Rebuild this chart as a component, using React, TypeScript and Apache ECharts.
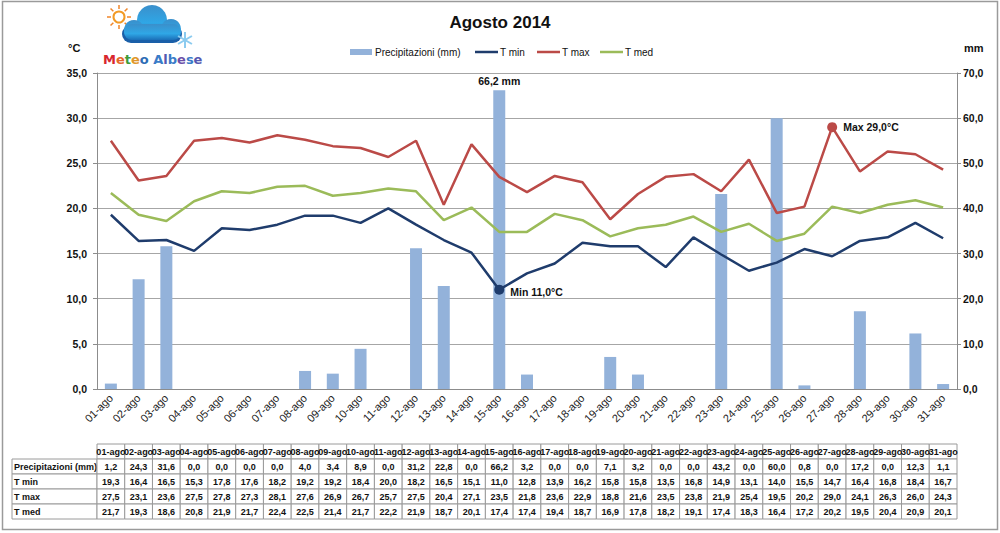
import React, { useEffect, useRef } from 'react';
import * as echarts from 'echarts';

const days = ['01-ago','02-ago','03-ago','04-ago','05-ago','06-ago','07-ago','08-ago','09-ago','10-ago','11-ago','12-ago','13-ago','14-ago','15-ago','16-ago','17-ago','18-ago','19-ago','20-ago','21-ago','22-ago','23-ago','24-ago','25-ago','26-ago','27-ago','28-ago','29-ago','30-ago','31-ago'];
const precip = [1.2,24.3,31.6,0,0,0,0,4.0,3.4,8.9,0,31.2,22.8,0,66.2,3.2,0,0,7.1,3.2,0,0,43.2,0,60.0,0.8,0,17.2,0,12.3,1.1];
const tmin = [19.3,16.4,16.5,15.3,17.8,17.6,18.2,19.2,19.2,18.4,20.0,18.2,16.5,15.1,11.0,12.8,13.9,16.2,15.8,15.8,13.5,16.8,14.9,13.1,14.0,15.5,14.7,16.4,16.8,18.4,16.7];
const tmax = [27.5,23.1,23.6,27.5,27.8,27.3,28.1,27.6,26.9,26.7,25.7,27.5,20.4,27.1,23.5,21.8,23.6,22.9,18.8,21.6,23.5,23.8,21.9,25.4,19.5,20.2,29.0,24.1,26.3,26.0,24.3];
const tmed = [21.7,19.3,18.6,20.8,21.9,21.7,22.4,22.5,21.4,21.7,22.2,21.9,18.7,20.1,17.4,17.4,19.4,18.7,16.9,17.8,18.2,19.1,17.4,18.3,16.4,17.2,20.2,19.5,20.4,20.9,20.1];
const tempTicks = { min: 0, max: 35, interval: 5 };
const rainTicks = { min: 0, max: 70, interval: 10 };
const seriesNames = ['Precipitazioni (mm)', 'T min', 'T max', 'T med'];
const tableRows = [
  { name: 'Precipitazioni (mm)', values: precip },
  { name: 'T min', values: tmin },
  { name: 'T max', values: tmax },
  { name: 'T med', values: tmed },
];

const fmt = (v: number) => v.toFixed(1).replace('.', ',');

const C_BAR = '#93B2DA';
const C_MIN = '#1F3C6C';
const C_MAX = '#BB4A47';
const C_MED = '#9BBB59';
const FONT = 'Liberation Sans';

const GL = 97, GT = 73, GW = 860, GH = 316;

function txtStyle(text: string, font: string, align: string, fill = '#111') {
  return { text, fill, font, textAlign: align, textVerticalAlign: 'middle', align, verticalAlign: 'middle' };
}

function buildTable(): any[] {
  const els: any[] = [];
  const cw = GW / days.length;
  const top = 444, rh = 15;
  const stroke = '#9a9a9a';
  const tfont = `bold 9px "${FONT}"`;
  days.forEach((d, i) => {
    const x = GL + i * cw;
    els.push({ type: 'rect', shape: { x, y: top, width: cw, height: rh }, style: { fill: '#fff', stroke, lineWidth: 1 } });
  });
  days.forEach((d, i) => {
    const x = GL + i * cw;
    els.push({ type: 'text', x: x + cw / 2, y: top + rh / 2 + 0.5, style: txtStyle(d, tfont, 'center') });
  });
  tableRows.forEach((row, r) => {
    const y = top + rh * (r + 1);
    els.push({ type: 'rect', shape: { x: 12, y, width: GL - 12, height: rh }, style: { fill: '#fff', stroke, lineWidth: 1 } });
    els.push({ type: 'text', x: 14, y: y + rh / 2 + 0.5, style: txtStyle(row.name, tfont, 'left') });
    row.values.forEach((v, i) => {
      const x = GL + i * cw;
      els.push({ type: 'rect', shape: { x, y, width: cw, height: rh }, style: { fill: '#fff', stroke, lineWidth: 1 } });
      els.push({ type: 'text', x: x + cw / 2, y: y + rh / 2 + 0.5, style: txtStyle(fmt(v), tfont, 'center') });
    });
  });
  return els;
}

function buildLegend(): any[] {
  const els: any[] = [];
  const y = 52;
  const lf = `10px "${FONT}"`;
  const iconX = [350, 475, 537, 600];
  const colors = [C_BAR, C_MIN, C_MAX, C_MED];
  seriesNames.forEach((name, i) => {
    const x = iconX[i];
    if (i === 0) {
      els.push({ type: 'rect', shape: { x, y: y - 3, width: 22, height: 6 }, style: { fill: colors[i] } });
    } else {
      els.push({ type: 'line', shape: { x1: x, y1: y, x2: x + 23, y2: y }, style: { stroke: colors[i], lineWidth: 2.5 } });
    }
    els.push({ type: 'text', x: x + (i === 0 ? 25 : 25), y: y + 0.5, style: txtStyle(name, lf, 'left') });
  });
  return els;
}

function buildLogo(): any[] {
  const els: any[] = [];
  const sx = 119, sy = 17;
  for (let k = 0; k < 8; k++) {
    const a = (k * Math.PI) / 4;
    els.push({ type: 'line', shape: { x1: sx + Math.cos(a) * 8, y1: sy + Math.sin(a) * 8, x2: sx + Math.cos(a) * 12, y2: sy + Math.sin(a) * 12 }, style: { stroke: '#F0862A', lineWidth: 1.5 } });
  }
  els.push({ type: 'circle', shape: { cx: sx, cy: sy, r: 5.5 }, style: { fill: '#fff', stroke: '#F29A26', lineWidth: 2 } });
  const grad = new echarts.graphic.LinearGradient(0, 0, 0, 1, [
    { offset: 0, color: '#3A8FCB' },
    { offset: 0.6, color: '#2FA7E6' },
    { offset: 1, color: '#1B6FB8' },
  ]);
  els.push({ type: 'rect', shape: { x: 122, y: 25, width: 60, height: 18, r: 9 }, style: { fill: '#1A5FA8' } });
  els.push({ type: 'circle', shape: { cx: 152, cy: 20, r: 15 }, style: { fill: grad } });
  els.push({ type: 'circle', shape: { cx: 134, cy: 30, r: 10 }, style: { fill: grad } });
  els.push({ type: 'circle', shape: { cx: 171, cy: 29, r: 10 }, style: { fill: grad } });
  els.push({ type: 'rect', shape: { x: 124, y: 24, width: 57, height: 16, r: 8 }, style: { fill: grad } });
  const fx = 185, fy = 40;
  for (let k = 0; k < 3; k++) {
    const a = (k * Math.PI) / 3 + Math.PI / 6;
    els.push({ type: 'line', shape: { x1: fx - Math.cos(a) * 8, y1: fy - Math.sin(a) * 8, x2: fx + Math.cos(a) * 8, y2: fy + Math.sin(a) * 8 }, style: { stroke: '#8CCBEF', lineWidth: 2 } });
  }
  const letters: [string, string][] = [['M', '#D8262E'], ['e', '#E5672A'], ['t', '#3E9B3A'], ['e', '#E0972A'], ['o', '#2E6DB5'], [' ', '#000'], ['A', '#3A7CC8'], ['l', '#5458B0'], ['b', '#3A7CC8'], ['e', '#6D4FA8'], ['s', '#3A7CC8'], ['e', '#5458B0']];
  const rich: any = {};
  let txt = '';
  letters.forEach(([ch, col], i) => {
    rich['c' + i] = { fill: col, color: col, font: 'bold 13px "DejaVu Sans"' };
    txt += `{c${i}|${ch}}`;
  });
  els.push({ type: 'text', x: 103, y: 59, style: { text: txt, rich, textVerticalAlign: 'middle', verticalAlign: 'middle', font: 'bold 13px "DejaVu Sans"' } });
  return els;
}

export default function App() {
  const ref = useRef<HTMLDivElement>(null);
  useEffect(() => {
    document.body.style.margin = '0';
    const chart = echarts.init(ref.current!, null, { renderer: 'svg' });
    const maxP = Math.max(...precip);
    const option: any = {
      animation: false,
      backgroundColor: '#fff',
      textStyle: { fontFamily: FONT },
      title: {
        text: 'Agosto 2014', left: 'center', top: 9,
        textStyle: { fontSize: 17, fontWeight: 'bold', color: '#111', fontFamily: FONT },
      },
      legend: { show: false, data: seriesNames },
      grid: { left: GL, top: GT, width: GW, height: GH, outerBoundsMode: 'none', containLabel: false },
      xAxis: {
        type: 'category', data: days, boundaryGap: true,
        axisLine: { lineStyle: { color: '#8c8c8c' } },
        axisTick: { show: false },
        axisLabel: { rotate: 45, interval: 0, fontSize: 11, color: '#222', margin: 7, fontFamily: FONT },
      },
      yAxis: [
        {
          type: 'value', ...tempTicks,
          axisLine: { show: true, lineStyle: { color: '#8c8c8c' } },
          axisTick: { show: true, length: 4, lineStyle: { color: '#8c8c8c' } },
          splitLine: { lineStyle: { color: '#a6a6a6' } },
          axisLabel: { formatter: (v: number) => fmt(v), fontSize: 10.5, fontWeight: 'bold', color: '#111', margin: 10, fontFamily: FONT },
        },
        {
          type: 'value', position: 'right', ...rainTicks,
          axisLine: { show: true, lineStyle: { color: '#8c8c8c' } },
          axisTick: { show: true, length: 4, lineStyle: { color: '#8c8c8c' } },
          splitLine: { show: false },
          axisLabel: { formatter: (v: number) => fmt(v), fontSize: 10.5, fontWeight: 'bold', color: '#111', margin: 6, fontFamily: FONT },
        },
      ],
      series: [
        {
          name: seriesNames[0], type: 'bar', yAxisIndex: 1, barWidth: 12,
          itemStyle: { color: C_BAR },
          data: precip.map((v) => v === maxP
            ? { value: v, label: { show: true, position: 'top', distance: 4, formatter: () => fmt(v) + ' mm', fontSize: 10.5, fontWeight: 'bold', color: '#111', fontFamily: FONT } }
            : v),
        },
        {
          name: seriesNames[1], type: 'line', yAxisIndex: 0, data: tmin, symbol: 'none',
          lineStyle: { color: C_MIN, width: 2.5 }, itemStyle: { color: C_MIN },
          markPoint: {
            symbol: 'circle', symbolSize: 10, itemStyle: { color: C_MIN },
            data: [{ type: 'min' }],
            label: { show: true, position: 'right', distance: 6, offset: [0, 2], formatter: (p: any) => 'Min ' + fmt(p.value) + '°C', fontSize: 10.5, fontWeight: 'bold', color: '#111', fontFamily: FONT },
          },
        },
        {
          name: seriesNames[2], type: 'line', yAxisIndex: 0, data: tmax, symbol: 'none',
          lineStyle: { color: C_MAX, width: 2.5 }, itemStyle: { color: C_MAX },
          markPoint: {
            symbol: 'circle', symbolSize: 10, itemStyle: { color: C_MAX },
            data: [{ type: 'max' }],
            label: { show: true, position: 'right', distance: 6, formatter: (p: any) => 'Max ' + fmt(p.value) + '°C', fontSize: 10.5, fontWeight: 'bold', color: '#111', fontFamily: FONT },
          },
        },
        {
          name: seriesNames[3], type: 'line', yAxisIndex: 0, data: tmed, symbol: 'none',
          lineStyle: { color: C_MED, width: 2.5 }, itemStyle: { color: C_MED },
        },
      ],
      graphic: [
        { type: 'rect', shape: { x: 2.5, y: 1.5, width: 995, height: 528 }, style: { fill: 'none', stroke: '#9a9a9a', lineWidth: 1.5 }, z: -1 },
        { type: 'text', x: 68, y: 48, style: txtStyle('°C', `bold 11px "${FONT}"`, 'left') },
        { type: 'text', x: 964, y: 48, style: txtStyle('mm', `bold 11px "${FONT}"`, 'left') },
        ...buildLegend(),
        ...buildLogo(),
        ...buildTable(),
      ],
    };
    chart.setOption(option);
    return () => chart.dispose();
  }, []);
  return <div ref={ref} style={{ position: 'fixed', left: 0, top: 0, width: 1000, height: 533, background: '#fff' }} />;
}
